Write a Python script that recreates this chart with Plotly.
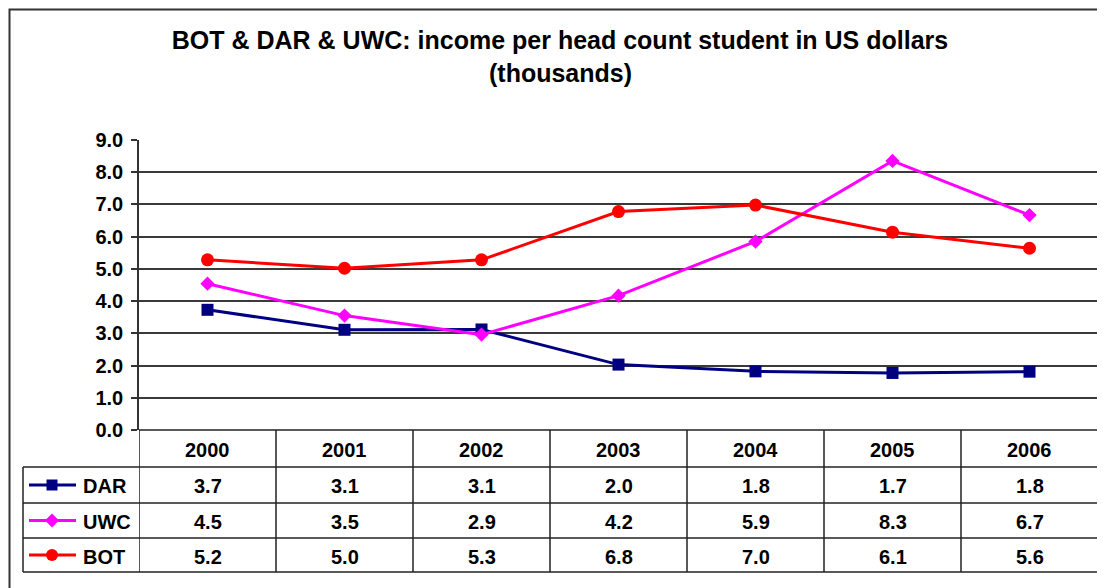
import plotly.graph_objects as go

# ---------------- data ----------------
years = ["2000", "2001", "2002", "2003", "2004", "2005", "2006"]
series_names = ["DAR", "UWC", "BOT"]
dar_values = [3.73, 3.11, 3.12, 2.03, 1.82, 1.77, 1.81]
uwc_values = [4.54, 3.55, 2.96, 4.17, 5.85, 8.35, 6.67]
bot_values = [5.28, 5.02, 5.28, 6.78, 6.98, 6.14, 5.64]
dar_table = ["3.7", "3.1", "3.1", "2.0", "1.8", "1.7", "1.8"]
uwc_table = ["4.5", "3.5", "2.9", "4.2", "5.9", "8.3", "6.7"]
bot_table = ["5.2", "5.0", "5.3", "6.8", "7.0", "6.1", "5.6"]
y_ticks = [0, 1, 2, 3, 4, 5, 6, 7, 8, 9]
title_line1 = "BOT & DAR & UWC: income per head count student in US dollars"
title_line2 = "(thousands)"

# ---------------- styles ----------------
OFF = 8                      # page body margin offset
W, H = 1105 - OFF, 588 - OFF
PL, PR, PT, PB = 139, 1098, 140, 430  # plot area in screen pixels
FONT = "Liberation Sans"
GRID = "#3a3a3a"
TXT = 20
TITLE = 25
styles = {
    "DAR": dict(color="#000080", symbol="square", size=12),
    "UWC": dict(color="#FF00FF", symbol="diamond", size=11),
    "BOT": dict(color="#FF0000", symbol="circle", size=13),
}
values = {"DAR": dar_values, "UWC": uwc_values, "BOT": bot_values}
tables = {"DAR": dar_table, "UWC": uwc_table, "BOT": bot_table}


def px(x):
    return (x - PL) / (PR - PL)


def py(y):
    return (PB - y) / (PB - PT)


def tfont(size=TXT):
    return dict(family=FONT, size=size, color="black", weight="bold")


fig = go.Figure()
xs = list(range(len(years)))
for name in series_names:
    st = styles[name]
    fig.add_trace(go.Scatter(
        x=xs, y=values[name], mode="lines+markers", name=name,
        line=dict(color=st["color"], width=3),
        marker=dict(symbol=st["symbol"], size=st["size"], color=st["color"]),
        showlegend=False, hoverinfo="skip",
    ))

shapes = []
annotations = []

# outer chart border (only left/top visible in the crop)
shapes.append(dict(type="rect", xref="paper", yref="paper",
                   x0=px(9.5), x1=px(1130), y0=py(9.5), y1=py(640),
                   line=dict(color="#333333", width=2)))

# table geometry
row_lines = [430, 467, 503, 538, 572]
shapes.append(dict(type="line", xref="paper", yref="paper",
                   x0=px(PL), x1=px(PR), y0=py(row_lines[0]), y1=py(row_lines[0]),
                   line=dict(color="#222222", width=1.5)))
for yy in row_lines[1:]:
    shapes.append(dict(type="line", xref="paper", yref="paper",
                       x0=px(23), x1=px(PR), y0=py(yy), y1=py(yy),
                       line=dict(color="#222222", width=1.5)))
shapes.append(dict(type="line", xref="paper", yref="paper",
                   x0=px(23), x1=px(23), y0=py(467), y1=py(572),
                   line=dict(color="#222222", width=1.5)))
for i in range(len(years) + 1):
    shapes.append(dict(type="line", xref="x", yref="paper",
                       x0=i - 0.5, x1=i - 0.5, y0=py(430), y1=py(572),
                       line=dict(color="#222222", width=1.5)))

# header labels
for i, yr in enumerate(years):
    annotations.append(dict(x=i, y=py((row_lines[0] + row_lines[1]) / 2 + 1), xref="x", yref="paper",
                            xanchor="center", yanchor="middle",
                            text=yr, showarrow=False, font=tfont()))

# rows
for r, name in enumerate(series_names):
    yc = (row_lines[r + 1] + row_lines[r + 2]) / 2
    st = styles[name]
    shapes.append(dict(type="line", xref="paper", yref="paper",
                       x0=px(29), x1=px(76), y0=py(yc), y1=py(yc),
                       line=dict(color=st["color"], width=3)))
    cx = 52
    if st["symbol"] == "square":
        shapes.append(dict(type="rect", xref="paper", yref="paper",
                           x0=px(cx - 5.5), x1=px(cx + 5.5), y0=py(yc + 5.5), y1=py(yc - 5.5),
                           fillcolor=st["color"], line=dict(width=0)))
    elif st["symbol"] == "circle":
        shapes.append(dict(type="circle", xref="paper", yref="paper",
                           x0=px(cx - 6), x1=px(cx + 6), y0=py(yc + 6), y1=py(yc - 6),
                           fillcolor=st["color"], line=dict(width=0)))
    else:
        path = "M %f %f L %f %f L %f %f L %f %f Z" % (
            px(cx - 7), py(yc), px(cx), py(yc - 7), px(cx + 7), py(yc), px(cx), py(yc + 7))
        shapes.append(dict(type="path", xref="paper", yref="paper", path=path,
                           fillcolor=st["color"], line=dict(width=0)))
    annotations.append(dict(x=px(81), y=py(yc + 1.5), xref="paper", yref="paper",
                            xanchor="left", yanchor="middle",
                            text=name, showarrow=False, font=tfont()))
    for i, t in enumerate(tables[name]):
        annotations.append(dict(x=i, y=py(yc + 1.5), xref="x", yref="paper",
                                xanchor="center", yanchor="middle",
                                text=t, showarrow=False, font=tfont()))

# title second line
annotations.append(dict(x=px(560), y=py(73), xref="paper", yref="paper",
                        xanchor="center", yanchor="middle",
                        text=title_line2, showarrow=False, font=tfont(TITLE)))

fig.update_layout(
    width=W, height=H,
    margin=dict(l=PL - OFF, r=W - (PR - OFF), t=PT - OFF, b=H - (PB - OFF), pad=0),
    paper_bgcolor="white", plot_bgcolor="white",
    title=dict(text=title_line1, x=(560 - OFF) / W, xanchor="center",
               y=1 - (40 - OFF) / H, yanchor="middle", xref="container", yref="container",
               font=tfont(TITLE)),
    xaxis=dict(range=[-0.5, len(years) - 0.5], showticklabels=False, ticks="",
               showgrid=False, zeroline=False, showline=False, fixedrange=True),
    yaxis=dict(range=[0, 9], tickvals=y_ticks, tickformat=".1f",
               ticks="outside", ticklen=6, tickcolor="#333333", tickwidth=1.5,
               showline=True, linecolor="#333333", linewidth=1.5,
               showgrid=True, gridcolor=GRID, gridwidth=1.5, zeroline=False,
               tickfont=tfont(), ticklabelstandoff=4),
    shapes=shapes, annotations=annotations,
)

fig.write_html("out.html")
